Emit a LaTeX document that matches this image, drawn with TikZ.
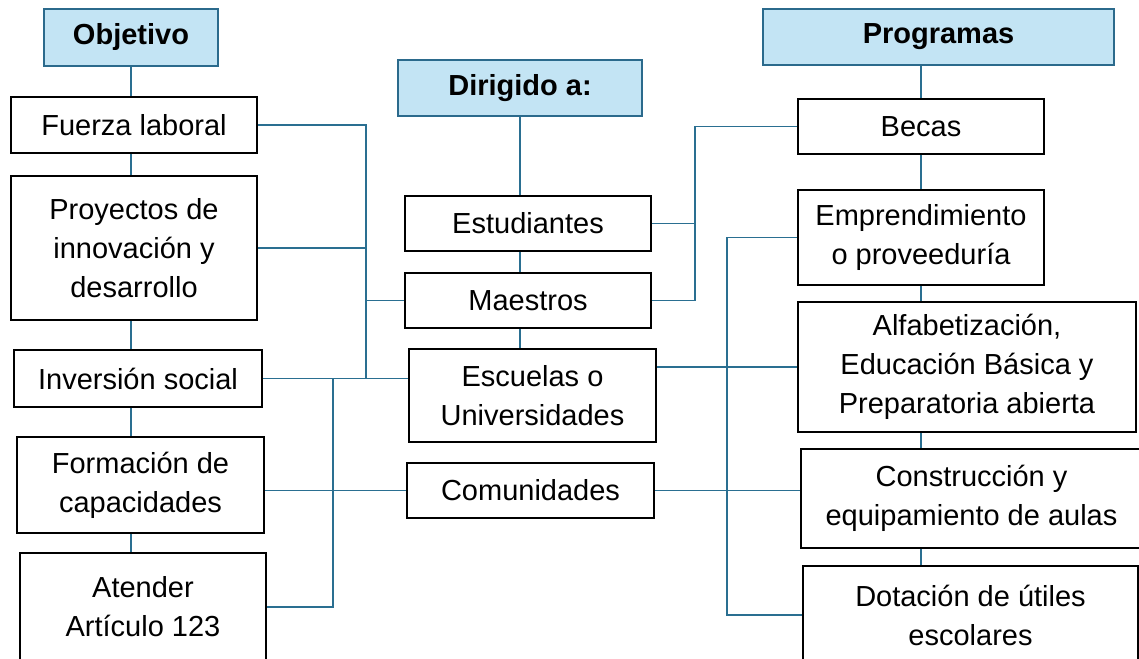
\documentclass[tikz,border=0pt]{standalone}
\usepackage{fontspec}
\setmainfont{Liberation Sans}
\definecolor{hdrblue}{RGB}{195,228,244}
\definecolor{hdrline}{RGB}{43,106,140}
\definecolor{conline}{RGB}{42,111,145}

\begin{document}
\begin{tikzpicture}[x=1pt,y=-1pt]
            \tikzstyle{every node}=[font=\fontsize{29}{39}\selectfont, align=center, inner sep=0pt]
            \tikzstyle{caja}=[draw=black, fill=white, line width=2pt]
            \tikzstyle{titulo}=[draw=hdrline, fill=hdrblue, line width=2pt, font=\fontsize{29}{39}\selectfont\bfseries]
            \tikzstyle{linea}=[draw=conline, line width=1.5pt]
            \useasboundingbox (0,0) rectangle (1139,658);
            % objetivo
            \node[titulo, minimum width=174pt, minimum height=57pt] (obj) at (131, 37.5) {Objetivo};
            \node[caja, minimum width=246pt, minimum height=56pt] (fuerza) at (134, 125) {Fuerza laboral};
            \node[caja, minimum width=246pt, minimum height=144pt] (proy) at (134, 248) {Proyectos de\\innovación y\\desarrollo};
            \node[caja, minimum width=248pt, minimum height=57pt] (inv) at (138, 378.5) {Inversión social};
            \node[caja, minimum width=247pt, minimum height=96pt] (form) at (140.5, 485) {Formación de\\capacidades};
            \node[caja, minimum width=246pt, minimum height=108pt] (aten) at (143, 607) {Atender\\Artículo 123};
            % dirigido a
            \node[titulo, minimum width=244pt, minimum height=56pt] (dir) at (520, 88) {Dirigido a:};
            \node[caja, minimum width=246pt, minimum height=55pt] (est) at (528, 223.5) {Estudiantes};
            \node[caja, minimum width=246pt, minimum height=55pt] (mae) at (528, 300.5) {Maestros};
            \node[caja, minimum width=247pt, minimum height=93pt] (esc) at (532.5, 395.5) {Escuelas o\\Universidades};
            \node[caja, minimum width=247pt, minimum height=55pt] (com) at (530.5, 490.5) {Comunidades};
            % programas
            \node[titulo, minimum width=351pt, minimum height=56pt] (prog) at (938.5, 37) {Programas};
            \node[caja, minimum width=246pt, minimum height=55pt] (becas) at (921, 126.5) {Becas};
            \node[caja, minimum width=246pt, minimum height=95pt] (empr) at (921, 237.5) {Emprendimiento\\o proveeduría};
            \node[caja, minimum width=338pt, minimum height=130pt] (alfa) at (967, 367) {Alfabetización,\\Educación Básica y\\Preparatoria abierta};
            \node[caja, minimum width=341pt, minimum height=99pt] (cons) at (971.5, 498.5) {Construcción y\\equipamiento de aulas};
            \node[caja, minimum width=335pt, minimum height=98pt] (dot) at (970.5, 615) {Dotación de útiles\\escolares};
            \coordinate (ja) at (366, 378.5);
            \coordinate (jb) at (333, 378.5);
            \coordinate (jc) at (695, 300.5);
            \coordinate (jd) at (727, 615);

            % columnas
            \draw[linea] (obj.south) -- (obj.south |- fuerza.north);
            \draw[linea] (obj.south |- fuerza.south) -- (obj.south |- proy.north);
            \draw[linea] (obj.south |- proy.south) -- (obj.south |- inv.north);
            \draw[linea] (obj.south |- inv.south) -- (obj.south |- form.north);
            \draw[linea] (obj.south |- form.south) -- (obj.south |- aten.north);
            \draw[linea] (dir.south) -- (dir.south |- est.north);
            \draw[linea] (dir.south |- est.south) -- (dir.south |- mae.north);
            \draw[linea] (dir.south |- mae.south) -- (dir.south |- esc.north);
            \draw[linea] (becas.north |- prog.south) -- (becas.north);
            \draw[linea] (becas.south) -- (becas.south |- empr.north);
            \draw[linea] (becas.south |- empr.south) -- (becas.south |- alfa.north);
            \draw[linea] (becas.south |- alfa.south) -- (becas.south |- cons.north);
            \draw[linea] (becas.south |- cons.south) -- (becas.south |- dot.north);
            % izquierda
            \draw[linea] (fuerza.east) -| (ja);
            \draw[linea] (proy.east) -- (proy.east -| ja);
            \draw[linea] (ja |- mae.west) -- (mae.west);
            \draw[linea] (inv.east) -- (inv.east -| esc.west);
            \draw[linea] (jb) |- (aten.east);
            \draw[linea] (form.east |- com.west) -- (com.west);
            % derecha
            \draw[linea] (becas.west) -| (jc) -- (mae.east);
            \draw[linea] (est.east) -- (est.east -| jc);
            \draw[linea] (empr.west) -| (jd) -- (dot.west);
            \draw[linea] (esc.east |- alfa.west) -- (alfa.west);
            \draw[linea] (com.east) -- (com.east -| cons.west);
\end{tikzpicture}
\end{document}
